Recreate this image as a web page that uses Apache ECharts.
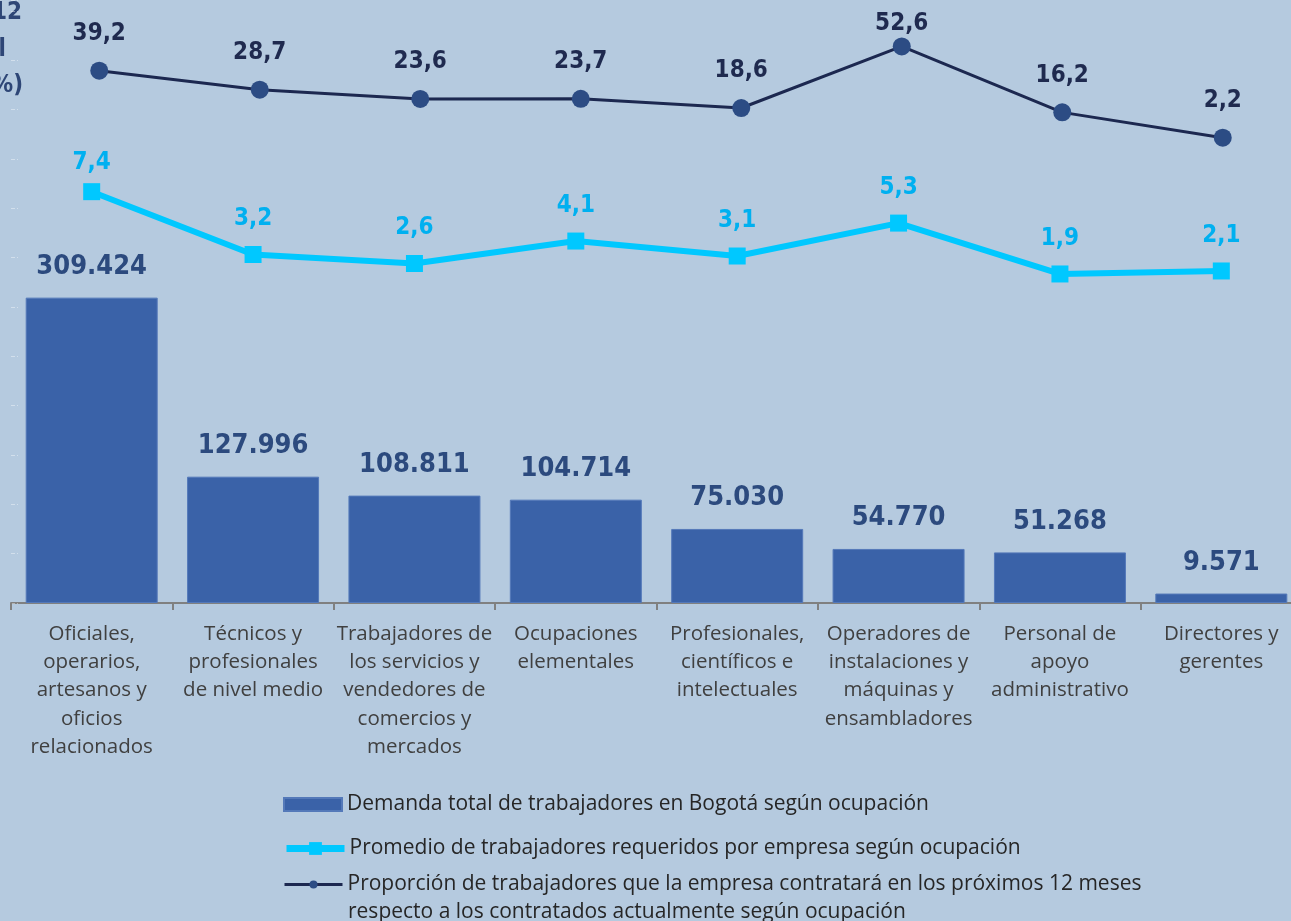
<!DOCTYPE html>
<html>
<head>
<meta charset="utf-8">
<script src="https://cdn.jsdelivr.net/npm/echarts@6/dist/echarts.min.js"></script>
<style>
  html, body { margin: 0; padding: 0; background: #b5cadf; overflow: hidden; }
  #chart-container { width: 1306px; height: 921px; }
</style>
</head>
<body>
<div id="chart-container"></div>
<script>
var categorias = [
    'Oficiales,\noperarios,\nartesanos y\noficios\nrelacionados',
    'Técnicos y\nprofesionales\nde nivel medio',
    'Trabajadores de\nlos servicios y\nvendedores de\ncomercios y\nmercados',
    'Ocupaciones\nelementales',
    'Profesionales,\ncientíficos e\nintelectuales',
    'Operadores de\ninstalaciones y\nmáquinas y\nensambladores',
    'Personal de\napoyo\nadministrativo',
    'Directores y\ngerentes'
];
var demanda = [309424, 127996, 108811, 104714, 75030, 54770, 51268, 9571];
var promedio = [7.4, 3.2, 2.6, 4.1, 3.1, 5.3, 1.9, 2.1];
var proporcion = [39.2, 28.7, 23.6, 23.7, 18.6, 52.6, 16.2, 2.2];
var nombres = [
    'Demanda total de trabajadores en Bogotá según ocupación',
    'Promedio de trabajadores requeridos por empresa según ocupación',
    'Proporción de trabajadores que la empresa contratará en los próximos 12 meses'
];
var nombre3b = 'respecto a los contratados actualmente según ocupación';

var numFont = "'DejaVu Sans Condensed', 'DejaVu Sans', sans-serif";
var txtFont = "'Open Sans', Lato, sans-serif";

function miles(v) {
    return String(v).replace(/\B(?=(\d{3})+(?!\d))/g, '.');
}
function coma(v) {
    return v.toFixed(1).replace('.', ',');
}

var dom = document.getElementById('chart-container');
var myChart = echarts.init(dom, null, {renderer: 'canvas'});

// the top point of each line sits closer to its label
var iMax = proporcion.indexOf(Math.max.apply(null, proporcion));
var iMaxP = promedio.indexOf(Math.max.apply(null, promedio));

var legendText = {color: '#262626', fontFamily: txtFont, fontSize: 21};

var option = {
    backgroundColor: '#b5cadf',
    animation: false,
    grid: [
        {left: 11, top: 0, width: 1291, height: 603},
        {left: 19, top: 0, width: 1284, height: 603}
    ],
    xAxis: [
        {
            type: 'category',
            gridIndex: 0,
            data: categorias,
            axisLine: {lineStyle: {color: '#808080', width: 2}},
            axisTick: {show: true, length: 7, lineStyle: {color: '#808080', width: 2}},
            axisLabel: {
                interval: 0,
                margin: 17,
                color: '#404040',
                fontFamily: txtFont,
                fontSize: 20.5,
                lineHeight: 28.2
            }
        },
        {
            type: 'category',
            gridIndex: 1,
            data: categorias,
            show: false
        }
    ],
    yAxis: [
        {
            type: 'value',
            gridIndex: 0,
            min: 0,
            max: 611000,
            interval: 50000,
            axisLine: {show: false},
            axisLabel: {show: false},
            axisTick: {show: true, inside: true, length: 7,
                lineStyle: {color: 'rgba(255,255,255,0.4)', type: 'dashed'}},
            splitLine: {show: false}
        },
        {
            type: 'value',
            gridIndex: 0,
            min: -20.09,
            max: 20.21,
            show: false,
            splitLine: {show: false}
        },
        {
            type: 'value',
            gridIndex: 1,
            min: -254.7,
            max: 78.24,
            show: false,
            splitLine: {show: false}
        }
    ],
    legend: [
        {
            data: [nombres[0]],
            left: 278, top: 789,
            itemWidth: 58, itemHeight: 13,
            icon: 'rect',
            textStyle: legendText
        },
        {
            data: [nombres[1]],
            left: 278, top: 833,
            itemWidth: 58, itemHeight: 16,
            lineStyle: {width: 7},
            textStyle: legendText
        },
        {
            data: [nombres[2]],
            left: 278, top: 869,
            itemWidth: 58, itemHeight: 10,
            lineStyle: {width: 3},
            textStyle: legendText
        }
    ],
    graphic: [
        {type: 'text', x: 22, y: 13,
            style: {text: 'próximos 12', align: 'right', verticalAlign: 'middle',
                font: "bold 24px " + numFont, fill: '#2e4676'}},
        {type: 'text', x: 6, y: 50,
            style: {text: 'actual', align: 'right', verticalAlign: 'middle',
                font: "bold 24px " + numFont, fill: '#2e4676'}},
        {type: 'text', x: 23, y: 86,
            style: {text: '(%)', align: 'right', verticalAlign: 'middle',
                font: "bold 24px " + numFont, fill: '#2e4676'}},
        {type: 'text', x: 348, y: 912,
            style: {text: nombre3b, align: 'left', verticalAlign: 'middle',
                font: "21px " + txtFont, fill: '#262626'}}
    ],
    series: [
        {
            name: nombres[0],
            type: 'bar',
            xAxisIndex: 0,
            yAxisIndex: 0,
            data: demanda,
            barWidth: 132,
            itemStyle: {color: '#3a62a8', borderColor: '#5479b9', borderWidth: 1},
            label: {
                show: true,
                position: 'top',
                distance: 17,
                color: '#2c4a7e',
                fontFamily: numFont,
                fontWeight: 'bold',
                fontSize: 27,
                formatter: function (p) { return miles(p.value); }
            },
            z: 2
        },
        {
            name: nombres[1],
            type: 'line',
            xAxisIndex: 0,
            yAxisIndex: 1,
            data: promedio.map(function (v, i) {
                return i === iMaxP ? {value: v, label: {distance: 8}} : v;
            }),
            symbol: 'rect',
            symbolSize: 17,
            lineStyle: {color: '#00c8ff', width: 6},
            itemStyle: {color: '#00c8ff'},
            label: {
                show: true,
                position: 'top',
                distance: 15,
                color: '#00b0f0',
                fontFamily: numFont,
                fontWeight: 'bold',
                fontSize: 24,
                formatter: function (p) { return coma(p.value); }
            },
            z: 3
        },
        {
            name: nombres[2],
            type: 'line',
            xAxisIndex: 1,
            yAxisIndex: 2,
            data: proporcion.map(function (v, i) {
                return i === iMax ? {value: v, label: {distance: 2}} : v;
            }),
            symbol: 'circle',
            symbolSize: 18,
            lineStyle: {color: '#1c2850', width: 3},
            itemStyle: {color: '#2c4c84'},
            label: {
                show: true,
                position: 'top',
                distance: 16,
                color: '#1f2a4f',
                fontFamily: numFont,
                fontWeight: 'bold',
                fontSize: 24,
                formatter: function (p) { return coma(p.value); }
            },
            z: 4
        }
    ]
};

myChart.setOption(option);
window.addEventListener('resize', myChart.resize);
</script>
</body>
</html>
